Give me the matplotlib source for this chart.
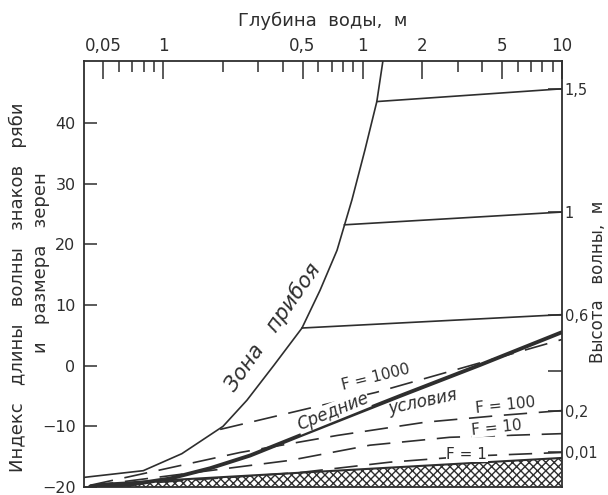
"""
Ripple-mark index vs water depth (log scale) with wave-height lines.
"""

import numpy as np
import matplotlib
matplotlib.use("Agg")
import matplotlib.pyplot as plt
from matplotlib.ticker import NullFormatter

plt.rcParams['font.family'] = ['DejaVu Sans']

INK = '#2e2e2e'

# Top axis: water depth, m
depth_ticks = [0.05, 0.1, 0.5, 1, 2, 5, 10]
depth_labels = ['0,05', '1', '0,5', '1', '2', '5', '10']
depth_minor = [0.06, 0.07, 0.08, 0.09, 0.2, 0.3, 0.4, 0.6, 0.7, 0.8, 0.9,
               3, 4, 6, 7, 8, 9]

# Left axis: index
index_ticks = [-20, -10, 0, 10, 20, 30, 40]

# Right axis: wave height, m (positions in index units)
height_pos = [45.6, 25.3, 8.4, -0.8, -7.5, -14.3]
height_labels = ['1,5', '1', '0,6', '', '0,2', '0,01']

# Surf zone boundary
surf_x = [0.0401, 0.0794, 0.124, 0.1995, 0.263, 0.36, 0.497, 0.612,
          0.745, 0.885, 1.028, 1.18, 1.266]
surf_y = [-18.4, -17.3, -14.5, -10.0, -5.7, 0.1, 6.2, 12.4,
          19.0, 27.3, 35.5, 43.5, 50.2]

# Wave-height lines starting on the surf boundary
wave_x0 = [1.18, 0.812, 0.497]
wave_y0 = [43.5, 23.2, 6.2]
wave_y1 = [45.6, 25.3, 8.4]

# Average conditions (thick line)
mean_x = [0.043, 0.068, 0.108, 0.172, 0.273, 0.486, 1.54, 3.88, 10]
mean_y = [-19.9, -19.6, -18.6, -16.9, -14.8, -11.5, -5.0, 0.1, 5.5]

# Fetch lines F
f1000_x = [0.193, 1.17, 5.68, 10]
f1000_y = [-10.5, -4.4, 2.0, 4.3]
f100_x = [0.043, 0.243, 0.745, 2.08, 4.89, 10]
f100_y = [-19.7, -14.3, -11.5, -9.3, -8.2, -7.4]
f10_x = [0.043, 0.433, 1.09, 2.74, 10]
f10_y = [-19.8, -15.6, -13.1, -11.8, -11.2]
f1_x = [0.043, 0.486, 1.37, 3.46, 10]
f1_y = [-20.0, -17.6, -15.9, -14.9, -14.3]

# Hatched bottom strip
hatch_x = [0.048, 10]
hatch_y = [-19.5, -15.2]

fig = plt.figure(figsize=(6.08, 4.95), dpi=100)
ax = fig.add_axes([0.138, 0.016, 0.786, 0.861])
ax.set_xscale('log')
ax.set_xlim(0.04, 10)
ax.set_ylim(-20, 50.2)

# hatched strip
ax.fill_between(hatch_x, -20, hatch_y, facecolor='white', edgecolor=INK,
                hatch='xxxx', linewidth=0.0)
ax.plot(hatch_x, hatch_y, color=INK, lw=1.5)

# surf zone and wave-height lines
ax.plot(surf_x, surf_y, color=INK, lw=1.2)
for x0, y0, y1 in zip(wave_x0, wave_y0, wave_y1):
    ax.plot([x0, 10], [y0, y1], color=INK, lw=1.2)

ax.plot(mean_x, mean_y, color=INK, lw=2.8, solid_capstyle='round')

dash = dict(color=INK, lw=1.2, dashes=[14, 7])
ax.plot(f1000_x, f1000_y, **dash)
ax.plot(f100_x, f100_y, **dash)
ax.plot(f10_x, f10_y, **dash)
ax.plot(f1_x, f1_y, **dash)

# labels on the plot
box = dict(facecolor='white', edgecolor='none', pad=0.3)
ax.text(0.356, 6.3, 'Зона   прибоя', rotation=55, fontsize=15, style='italic',
        color=INK, ha='center', va='center')
ax.text(1.17, -1.9, 'F = 1000', rotation=14, fontsize=11, color=INK,
        ha='center', va='center')
ax.text(0.71, -7.6, 'Средние', rotation=22, fontsize=12, style='italic',
        color=INK, ha='center', va='center', bbox=box)
ax.text(2.0, -5.9, 'условия', rotation=12, fontsize=12, style='italic',
        color=INK, ha='center', va='center')
ax.text(5.2, -6.6, 'F = 100', rotation=6, fontsize=11, color=INK,
        ha='center', va='center')
ax.text(4.7, -10.2, 'F = 10', rotation=6, fontsize=11, color=INK,
        ha='center', va='center', bbox=box)
ax.text(3.34, -14.6, 'F = 1', fontsize=11, color=INK,
        ha='center', va='center', bbox=box)

# axes styling
for s in ax.spines.values():
    s.set_color(INK)
    s.set_linewidth(1.3)

ax.xaxis.tick_top()
ax.xaxis.set_label_position('top')
ax.set_xticks(depth_ticks)
ax.set_xticklabels(depth_labels)
ax.set_xticks(depth_minor, minor=True)
ax.xaxis.set_minor_formatter(NullFormatter())
ax.tick_params(axis='x', which='major', direction='in', length=13, width=1.1,
               labelsize=12, colors=INK, pad=4)
ax.tick_params(axis='x', which='minor', direction='in', length=8, width=1.1,
               colors=INK)
ax.set_xlabel('Глубина  воды,  м', fontsize=13, color=INK, labelpad=8)

ax.set_yticks(index_ticks)
ax.tick_params(axis='y', direction='in', length=9, width=1.1, labelsize=11.5,
               colors=INK, pad=6)
ax.get_yticklabels()[0].set_va('center_baseline')

ax2 = ax.twinx()
ax2.set_ylim(ax.get_ylim())
ax2.set_yticks(height_pos)
ax2.set_yticklabels(height_labels)
ax2.tick_params(axis='y', direction='in', length=10, width=1.1, labelsize=10.5,
                colors=INK, pad=2)
for s in ax2.spines.values():
    s.set_visible(False)

# axis titles placed like the original drawing
fig.text(0.030, 0.42, 'Индекс   длины   волны   знаков   ряби', rotation=90,
         fontsize=13, color=INK, ha='center', va='center')
fig.text(0.068, 0.47, 'и   размера   зерен', rotation=90,
         fontsize=13, color=INK, ha='center', va='center')
fig.text(0.983, 0.43, 'Высота   волны,  м', rotation=90,
         fontsize=12, color=INK, ha='center', va='center')

fig.savefig('out.png', dpi=100)
